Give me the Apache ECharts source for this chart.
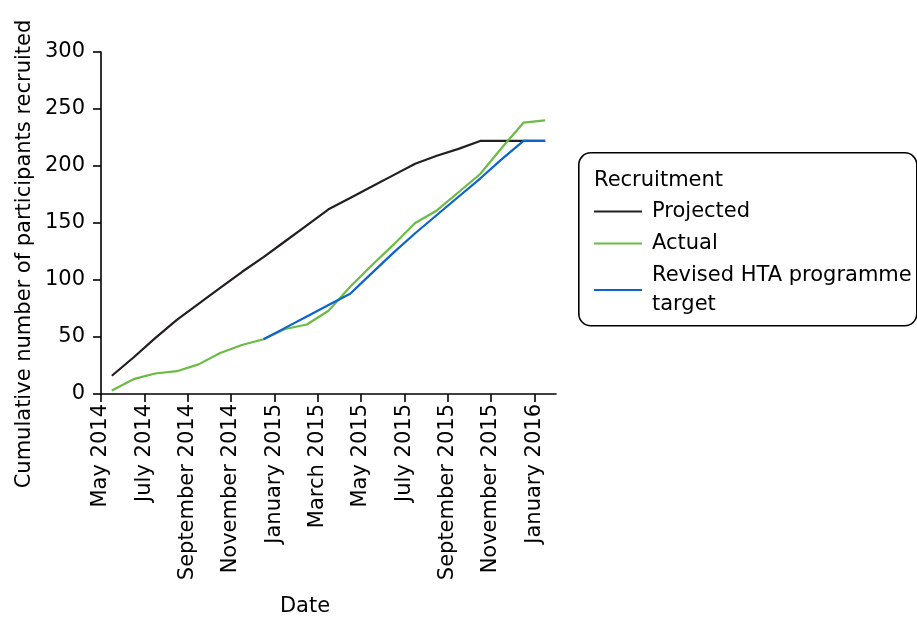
<!DOCTYPE html>
<html>
<head>
<meta charset="utf-8">
<script src="https://cdn.jsdelivr.net/npm/echarts@6/dist/echarts.min.js"></script>
<style>html,body{margin:0;padding:0;background:#fff;}#chart{width:917px;height:619px;}</style>
</head>
<body>
<div id="chart"></div>
<script>
// Months (one point per month, plotted at mid-month)
const months = ['May 2014','Jun 2014','Jul 2014','Aug 2014','Sep 2014','Oct 2014','Nov 2014','Dec 2014',
  'Jan 2015','Feb 2015','Mar 2015','Apr 2015','May 2015','Jun 2015','Jul 2015','Aug 2015','Sep 2015',
  'Oct 2015','Nov 2015','Dec 2015','Jan 2016'];
const tickLabels = ['May 2014','July 2014','September 2014','November 2014','January 2015','March 2015',
  'May 2015','July 2015','September 2015','November 2015','January 2016'];
const projected = [16,32,49,65,79,93,107,120,134,148,162,172,182,192,202,209,215,222,222,222,222];
const actual = [3,13,18,20,26,36,43,48,57,61,73,94,113,131,150,161,177,193,216,238,240];
const revised = [null,null,null,null,null,null,null,48,58,68,78,88,106,124,141,157,173,189,206,222,222];

const toPts = arr => arr.map((v,i) => [i + 0.5, v]);
const tickVals = tickLabels.map((_, k) => k * 2);

const FONT = 'DejaVu Sans';
const FS = 21;
const chart = echarts.init(document.getElementById('chart'), null, {renderer:'canvas'});
chart.setOption({
  animation: false,
  textStyle: {fontFamily: FONT, color: '#000'},
  grid: {left: 101, right: 361, top: 52, bottom: 225, containLabel: false},
  xAxis: {
    type: 'value', min: 0, max: months.length, interval: 2,
    axisLine: {show: true, onZero: false, lineStyle: {color: '#000', width: 1.6}},
    axisTick: {show: true, length: 8, lineStyle: {color: '#000', width: 1.6}, customValues: tickVals},
    axisLabel: {rotate: 90, fontSize: FS, color: '#000', fontFamily: FONT, margin: 10,
      customValues: tickVals,
      formatter: v => tickLabels[Math.round(v/2)] || ''},
    splitLine: {show: false}
  },
  yAxis: {
    type: 'value', min: 0, max: 300, interval: 50,
    axisLine: {show: true, lineStyle: {color: '#000', width: 1.6}},
    axisTick: {show: true, length: 8, lineStyle: {color: '#000', width: 1.6}},
    axisLabel: {fontSize: FS, color: '#000', fontFamily: FONT, margin: 16},
    splitLine: {show: false}
  },
  legend: {
    orient: 'vertical', left: 594, top: 197, padding: 0,
    icon: 'rect', itemWidth: 48, itemHeight: 1.8, itemGap: 3,
    textStyle: {fontSize: FS, color: '#000', fontFamily: FONT, lineHeight: 29, padding: [0,0,0,5]},
    formatter: n => n === 'Revised HTA programme target' ? 'Revised HTA programme\ntarget' : n,
    data: ['Projected','Actual','Revised HTA programme target']
  },
  graphic: [
    {type: 'rect', left: 578, top: 152, z: -1,
      shape: {width: 338, height: 173, r: 12},
      style: {fill: '#fff', stroke: '#000', lineWidth: 1.6}},
    {type: 'text', x: 594, y: 181,
      style: {text: 'Recruitment', fontSize: FS, fontFamily: FONT, fill: '#000', verticalAlign: 'middle'}},
    {type: 'text', x: 25, y: 254, rotation: Math.PI/2,
      style: {text: 'Cumulative number of participants recruited', fontSize: FS, fontFamily: FONT,
        fill: '#000', align: 'center', verticalAlign: 'middle'}},
    {type: 'text', x: 305, y: 607,
      style: {text: 'Date', fontSize: FS, fontFamily: FONT, fill: '#000', align: 'center', verticalAlign: 'middle'}}
  ],
  series: [
    {name: 'Projected', type: 'line', data: toPts(projected), symbol: 'none', z: 2,
      lineStyle: {color: '#231f20', width: 2.2}, itemStyle: {color: '#231f20'}},
    {name: 'Actual', type: 'line', data: toPts(actual), symbol: 'none', z: 3,
      lineStyle: {color: '#6cbb45', width: 2.2}, itemStyle: {color: '#6cbb45'}},
    {name: 'Revised HTA programme target', type: 'line', data: toPts(revised), symbol: 'none', z: 4,
      connectNulls: false,
      lineStyle: {color: '#0a63cf', width: 2.2}, itemStyle: {color: '#0a63cf'}}
  ]
});
</script>
</body>
</html>
